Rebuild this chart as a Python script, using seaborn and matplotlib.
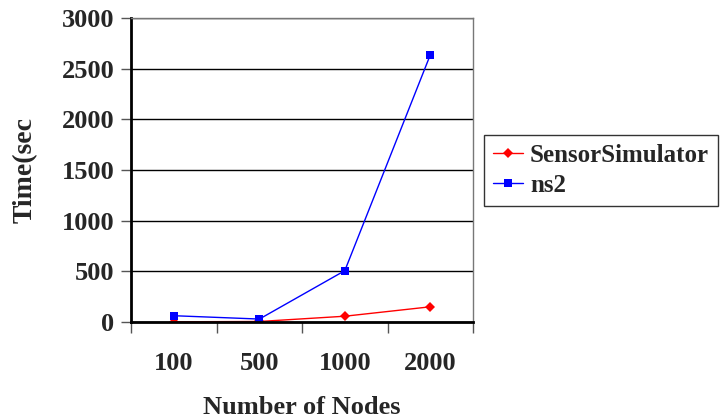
import pandas as pd
import matplotlib.pyplot as plt
from matplotlib.ticker import FixedLocator
import seaborn as sns

# values
nodes = ['100', '500', '1000', '2000']
sensor_sim = [0, 3, 55, 148]
ns2 = [60, 27, 505, 2635]

df = pd.DataFrame({
    'Nodes': nodes * 2,
    'Time': sensor_sim + ns2,
    'Tool': ['SensorSimulator'] * 4 + ['ns2'] * 4,
})

sns.set_style('white')
plt.rcParams['font.family'] = ['Liberation Serif', 'DejaVu Serif']
plt.rcParams['font.weight'] = 'bold'

fig = plt.figure(figsize=(7.21, 4.19), dpi=100)
ax = fig.add_axes([0.182, 0.232, 0.474, 0.725])

sns.lineplot(data=df, x='Nodes', y='Time', hue='Tool', style='Tool',
             palette={'SensorSimulator': '#ff0000', 'ns2': '#0000ff'},
             markers={'SensorSimulator': 'D', 'ns2': 's'},
             dashes=False, linewidth=1, markersize=5.5, markeredgewidth=0,
             ax=ax)

ax.set_xlim(-0.5, 3.5)
ax.set_ylim(0, 3000)
ax.set_yticks(range(0, 3001, 500))
ax.grid(axis='y', color='black', linewidth=1)
ax.set_axisbelow(True)

# ticks between categories like the spreadsheet chart
ax.xaxis.set_minor_locator(FixedLocator([-0.5, 0.5, 1.5, 2.5, 3.5]))
ax.tick_params(axis='x', which='major', length=0, pad=22, labelsize=19)
ax.tick_params(axis='x', which='minor', length=8, width=1, color='#555555',
               direction='out', bottom=True)
ax.tick_params(axis='y', length=7, width=1, color='#555555', direction='out',
               left=True, labelsize=19, pad=5)

for side in ['left', 'bottom']:
    ax.spines[side].set_color('black')
    ax.spines[side].set_linewidth(2)
for side in ['top', 'right']:
    ax.spines[side].set_color('#777777')
    ax.spines[side].set_linewidth(1)

ax.set_xlabel('Number of Nodes', fontsize=19, fontweight='bold', labelpad=15)
ax.set_ylabel('Time(sec', fontsize=20, fontweight='bold', labelpad=17)

handles, labels = ax.get_legend_handles_labels()
ax.legend(handles, labels, loc='upper left', bbox_to_anchor=(0.671, 0.678),
          bbox_transform=fig.transFigure, frameon=True, fancybox=False,
          edgecolor='black', prop={'size': 18, 'weight': 'bold'},
          handlelength=1.2, handletextpad=0.3, borderpad=0.35,
          labelspacing=0.3, borderaxespad=0)
ax.get_legend().get_frame().set_linewidth(1)

fig.savefig('out.png', dpi=100)
